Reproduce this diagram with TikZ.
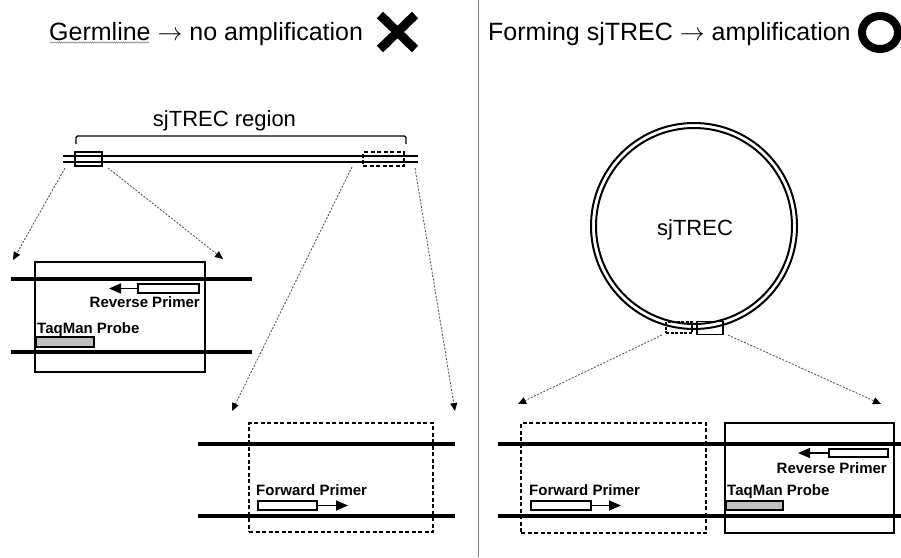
\documentclass[tikz,border=0pt]{standalone}
\usepackage{fontspec}
\setmainfont{Liberation Sans}
\usetikzlibrary{arrows.meta,decorations.pathmorphing}
\begin{document}
\begin{tikzpicture}[x=1pt,y=-1pt,
  thickdna/.style={line width=4.2pt},
  thindna/.style={line width=2pt},
  outlinebox/.style={draw, line width=1.4pt, inner sep=0pt},
  dashbox/.style={draw, line width=1.4pt, dash pattern=on 4pt off 2.5pt, inner sep=0pt},
  zoomline/.style={draw=black!65, dash pattern=on 2pt off 1.5pt, line width=0.9pt,
    -{Triangle[length=8pt,width=7pt,color=black]}},
  primerbox/.style={draw, fill=white, line width=2pt, inner sep=0pt, minimum height=9pt},
  probebox/.style={draw, fill=black!25, line width=2pt, inner sep=0pt, minimum height=9pt},
  primerarrow/.style={line width=1.7pt, -{Triangle[length=12pt,width=10pt]}},
  lbl/.style={font=\fontsize{15}{17}\selectfont\bfseries, inner sep=0pt},
  ttl/.style={font=\fontsize{25}{29}\selectfont, inner sep=0pt},
  big/.style={font=\fontsize{22}{26}\selectfont, inner sep=0pt}
]
\useasboundingbox (0,0) rectangle (901,557);

% divider
\draw[black!50, line width=0.9pt] (478,0) -- (478,557);

% titles
\node[ttl, anchor=base west] (t1) at (49,40) {Germline $\rightarrow$ no amplification};
\draw[black!45, line width=0.6pt, decorate, decoration={snake, amplitude=0.6pt, segment length=2.2pt}] (50,42.5) -- (149,42.5);
\draw[line width=9pt] (380,15) -- (415,49);
\draw[line width=9pt] (415,15) -- (380,49);
\node[ttl, anchor=base west] (t2) at (488,40) {Forming sjTREC $\rightarrow$ amplification};
\draw[line width=8pt] (880,32.5) ellipse [x radius=18, y radius=16.5];

% ---------- left panel: germline ----------
\node[big, anchor=base] (reg) at (224.5,126) {sjTREC region};
\draw[line width=1.3pt, rounded corners=1.5pt] (76,144) -- (76,136) -- (406,136) -- (406,144);
\draw[thindna] (63,156) -- (418,156);
\draw[thindna] (63,162) -- (418,162);
\node[outlinebox, minimum width=27pt, minimum height=14pt] (sbA) at (88.5,159) {};
\node[dashbox, minimum width=41pt, minimum height=14pt] (sbB) at (383.5,159) {};

\coordinate (a1s) at (65,168);  \coordinate (a1e) at (13,260);
\coordinate (a2s) at (108,168); \coordinate (a2e) at (223,259);
\coordinate (a3s) at (352,167); \coordinate (a3e) at (232,411);
\coordinate (a4s) at (415,168); \coordinate (a4e) at (455,411);
\draw[zoomline] (a1s) -- (a1e);
\draw[zoomline] (a2s) -- (a2e);
\draw[zoomline] (a3s) -- (a3e);
\draw[zoomline] (a4s) -- (a4e);

% left zoom box (reverse primer + probe)
\draw[thickdna] (11,279) -- (252,279);
\draw[thickdna] (11,352) -- (252,352);
\node[outlinebox, minimum width=170pt, minimum height=110pt] (boxL) at (120,317) {};
\node[primerbox, minimum width=61pt] (rpL) at (168.5,288.5) {};
\coordinate (rpLtip) at (109,288.5);
\draw[primerarrow] (rpL.west) -- (rpLtip);
\node[lbl, anchor=base east] (rpLt) at (200,307) {Reverse Primer};
\node[lbl, anchor=base west] (tpLt) at (37,333) {TaqMan Probe};
\node[probebox, minimum width=58pt, minimum height=10pt] (tpL) at (65,342) {};

% middle zoom box (forward primer)
\draw[thickdna] (198,444) -- (455,444);
\draw[thickdna] (198,516) -- (455,516);
\node[dashbox, minimum width=184pt, minimum height=109pt] (boxM) at (341,477.5) {};
\node[primerbox, minimum width=59pt] (fpM) at (287.5,505.5) {};
\coordinate (fpMtip) at (348,505.5);
\draw[primerarrow] (fpM.east) -- (fpMtip);
\node[lbl, anchor=base west] (fpMt) at (256,495) {Forward Primer};

% ---------- right panel: sjTREC ----------
\draw[line width=2pt] (694,226) circle [radius=103];
\draw[line width=2pt] (694,226) circle [radius=98];
\node[big] (circ) at (695,229.5) {sjTREC};
\node[dashbox, minimum width=26pt, minimum height=11pt, dash pattern=on 3pt off 1.5pt] (cbA) at (679,327.5) {};
\node[outlinebox, minimum width=26pt, minimum height=13pt] (cbB) at (710,328) {};

\coordinate (b1s) at (662,335); \coordinate (b1e) at (518,404);
\coordinate (b2s) at (728,335); \coordinate (b2e) at (881,404);
\draw[zoomline] (b1s) -- (b1e);
\draw[zoomline] (b2s) -- (b2e);

\draw[thickdna] (498,444) -- (901,444);
\draw[thickdna] (498,516) -- (901,516);
\node[dashbox, minimum width=185pt, minimum height=110pt] (boxR1) at (613.5,478) {};
\node[outlinebox, minimum width=169pt, minimum height=110pt] (boxR2) at (809.5,478) {};

\node[primerbox, minimum width=60pt] (fpR) at (561,505.5) {};
\coordinate (fpRtip) at (621,505.5);
\draw[primerarrow] (fpR.east) -- (fpRtip);
\node[lbl, anchor=base west] (fpRt) at (529,495) {Forward Primer};

\node[primerbox, minimum width=59pt, minimum height=8pt] (rpR) at (858.5,453) {};
\coordinate (rpRtip) at (798,453);
\draw[primerarrow] (rpR.west) -- (rpRtip);
\node[lbl, anchor=base east] (rpRt) at (887,473) {Reverse Primer};
\node[lbl, anchor=base west] (tpRt) at (727,495) {TaqMan Probe};
\node[probebox, minimum width=57pt] (tpR) at (754.5,505.5) {};
\end{tikzpicture}
\end{document}
